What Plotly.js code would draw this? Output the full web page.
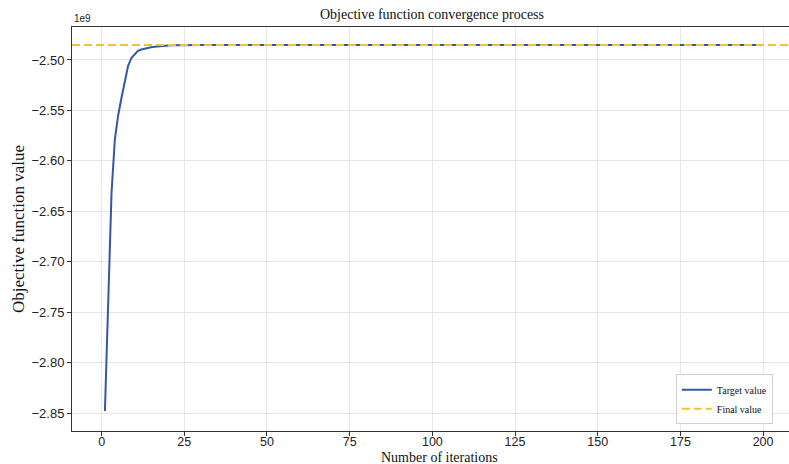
<!DOCTYPE html>
<html>
<head>
<meta charset="utf-8">
<script src="https://cdn.plot.ly/plotly-3.0.1.min.js"></script>
<style>
html,body{margin:0;padding:0;width:789px;height:464px;overflow:hidden;background:#fff;}
#chart{width:800px;height:464px;}
</style>
</head>
<body>
<div id="chart"></div>
<script>
// Objective function value per iteration, in units of 1e9
const objectiveValues = [
  -2.8480, -2.7300, -2.6320, -2.5790, -2.5550, -2.5377, -2.5228, -2.5060, -2.4980, -2.4940,
  -2.4910, -2.4896, -2.4886, -2.4879, -2.4873, -2.4868, -2.4864, -2.4861, -2.4858, -2.4856,
  -2.4855, -2.4854, -2.4853, -2.4853, -2.4852, -2.4852, -2.4852, -2.4852, -2.4852, -2.4852,
  -2.4852, -2.4852, -2.4852, -2.4852, -2.4852, -2.4851, -2.4851, -2.4851, -2.4851, -2.4851,
  -2.4851, -2.4851, -2.4851, -2.4851, -2.4851, -2.4851, -2.4851, -2.4851, -2.4851, -2.4851,
  -2.4851, -2.4851, -2.4851, -2.4851, -2.4851, -2.4851, -2.4851, -2.4851, -2.4851, -2.4851,
  -2.4851, -2.4851, -2.4851, -2.4851, -2.4851, -2.4851, -2.4851, -2.4851, -2.4851, -2.4851,
  -2.4851, -2.4851, -2.4851, -2.4851, -2.4851, -2.4851, -2.4851, -2.4851, -2.4851, -2.4851,
  -2.4851, -2.4851, -2.4851, -2.4851, -2.4851, -2.4851, -2.4851, -2.4851, -2.4851, -2.4851,
  -2.4851, -2.4851, -2.4851, -2.4851, -2.4851, -2.4851, -2.4851, -2.4851, -2.4851, -2.4851,
  -2.4851, -2.4851, -2.4851, -2.4851, -2.4851, -2.4851, -2.4851, -2.4851, -2.4851, -2.4851,
  -2.4851, -2.4851, -2.4851, -2.4851, -2.4851, -2.4851, -2.4851, -2.4851, -2.4851, -2.4851,
  -2.4851, -2.4851, -2.4851, -2.4851, -2.4851, -2.4851, -2.4851, -2.4851, -2.4851, -2.4851,
  -2.4851, -2.4851, -2.4851, -2.4851, -2.4851, -2.4851, -2.4851, -2.4851, -2.4851, -2.4851,
  -2.4851, -2.4851, -2.4851, -2.4851, -2.4851, -2.4851, -2.4851, -2.4851, -2.4851, -2.4851,
  -2.4851, -2.4851, -2.4851, -2.4851, -2.4851, -2.4851, -2.4851, -2.4851, -2.4851, -2.4851,
  -2.4851, -2.4851, -2.4851, -2.4851, -2.4851, -2.4851, -2.4851, -2.4851, -2.4851, -2.4851,
  -2.4851, -2.4851, -2.4851, -2.4851, -2.4851, -2.4851, -2.4851, -2.4851, -2.4851, -2.4851,
  -2.4851, -2.4851, -2.4851, -2.4851, -2.4851, -2.4851, -2.4851, -2.4851, -2.4851, -2.4851,
  -2.4851, -2.4851, -2.4851, -2.4851, -2.4851, -2.4851, -2.4851, -2.4851, -2.4851, -2.4851
];
const iterations = objectiveValues.map((v, i) => i + 1);
const finalValue = -2.4851;
const xTickVals = [0, 25, 50, 75, 100, 125, 150, 175, 200];
const yTickVals = [-2.85, -2.80, -2.75, -2.70, -2.65, -2.60, -2.55, -2.50];
const xRange = [-8.95, 209.95];
const yRange = [-2.8678, -2.4673];

const serif = "'Liberation Serif', 'Times New Roman', serif";
const sans = "'Liberation Sans', 'DejaVu Sans', sans-serif";

const traces = [
  {
    x: iterations, y: objectiveValues, type: 'scatter', mode: 'lines',
    name: 'Target value',
    line: {color: '#3557a8', width: 2}
  },
  {
    x: xRange, y: [finalValue, finalValue], type: 'scatter', mode: 'lines',
    name: 'Final value',
    line: {color: '#f2c230', width: 2, dash: '8px,4px'}
  }
];

const axisCommon = {
  showline: true, mirror: true, linecolor: '#333', linewidth: 1,
  ticks: 'outside', ticklen: 4, tickcolor: '#333', tickwidth: 1,
  showgrid: true, gridcolor: '#e6e6e6', gridwidth: 1,
  zeroline: false,
  tickfont: {family: sans, size: 13, color: '#222'}
};

const layout = {
  width: 800, height: 464,
  margin: {l: 72, r: 4, t: 27, b: 33},
  paper_bgcolor: '#fff', plot_bgcolor: '#fff',
  title: {
    text: 'Objective function convergence process',
    font: {family: serif, size: 14, color: '#111'},
    x: 0.54, xanchor: 'center', y: 0.97, yanchor: 'middle'
  },
  xaxis: Object.assign({}, axisCommon, {
    range: xRange, tickvals: xTickVals, ticklabelstandoff: -5,
    tickfont: {family: sans, size: 12.5, color: '#222'}
  }),
  yaxis: Object.assign({}, axisCommon, {
    range: yRange, tickvals: yTickVals, tickformat: '.2f',
    title: {text: 'Objective function value', font: {family: serif, size: 17, color: '#111'}, standoff: 2}
  }),
  showlegend: true,
  legend: {
    x: 0.834, y: 0.017, xanchor: 'left', yanchor: 'bottom',
    bgcolor: 'rgba(255,255,255,0.85)', bordercolor: '#d0d0d0', borderwidth: 1,
    font: {family: serif, size: 10, color: '#111'},
    tracegroupgap: 0
  },
  annotations: [
    {text: '1e9', xref: 'paper', yref: 'paper', x: 0, y: 1, xanchor: 'left', yanchor: 'bottom',
     showarrow: false, font: {family: sans, size: 10, color: '#222'}, yshift: 1},
    {text: 'Number of iterations', xref: 'paper', yref: 'paper', x: 0.507, y: -0.065,
     xanchor: 'center', yanchor: 'middle', showarrow: false, borderpad: 0,
     font: {family: serif, size: 14, color: '#111'}}
  ]
};

Plotly.newPlot('chart', traces, layout, {displayModeBar: false, staticPlot: true});
</script>
</body>
</html>
